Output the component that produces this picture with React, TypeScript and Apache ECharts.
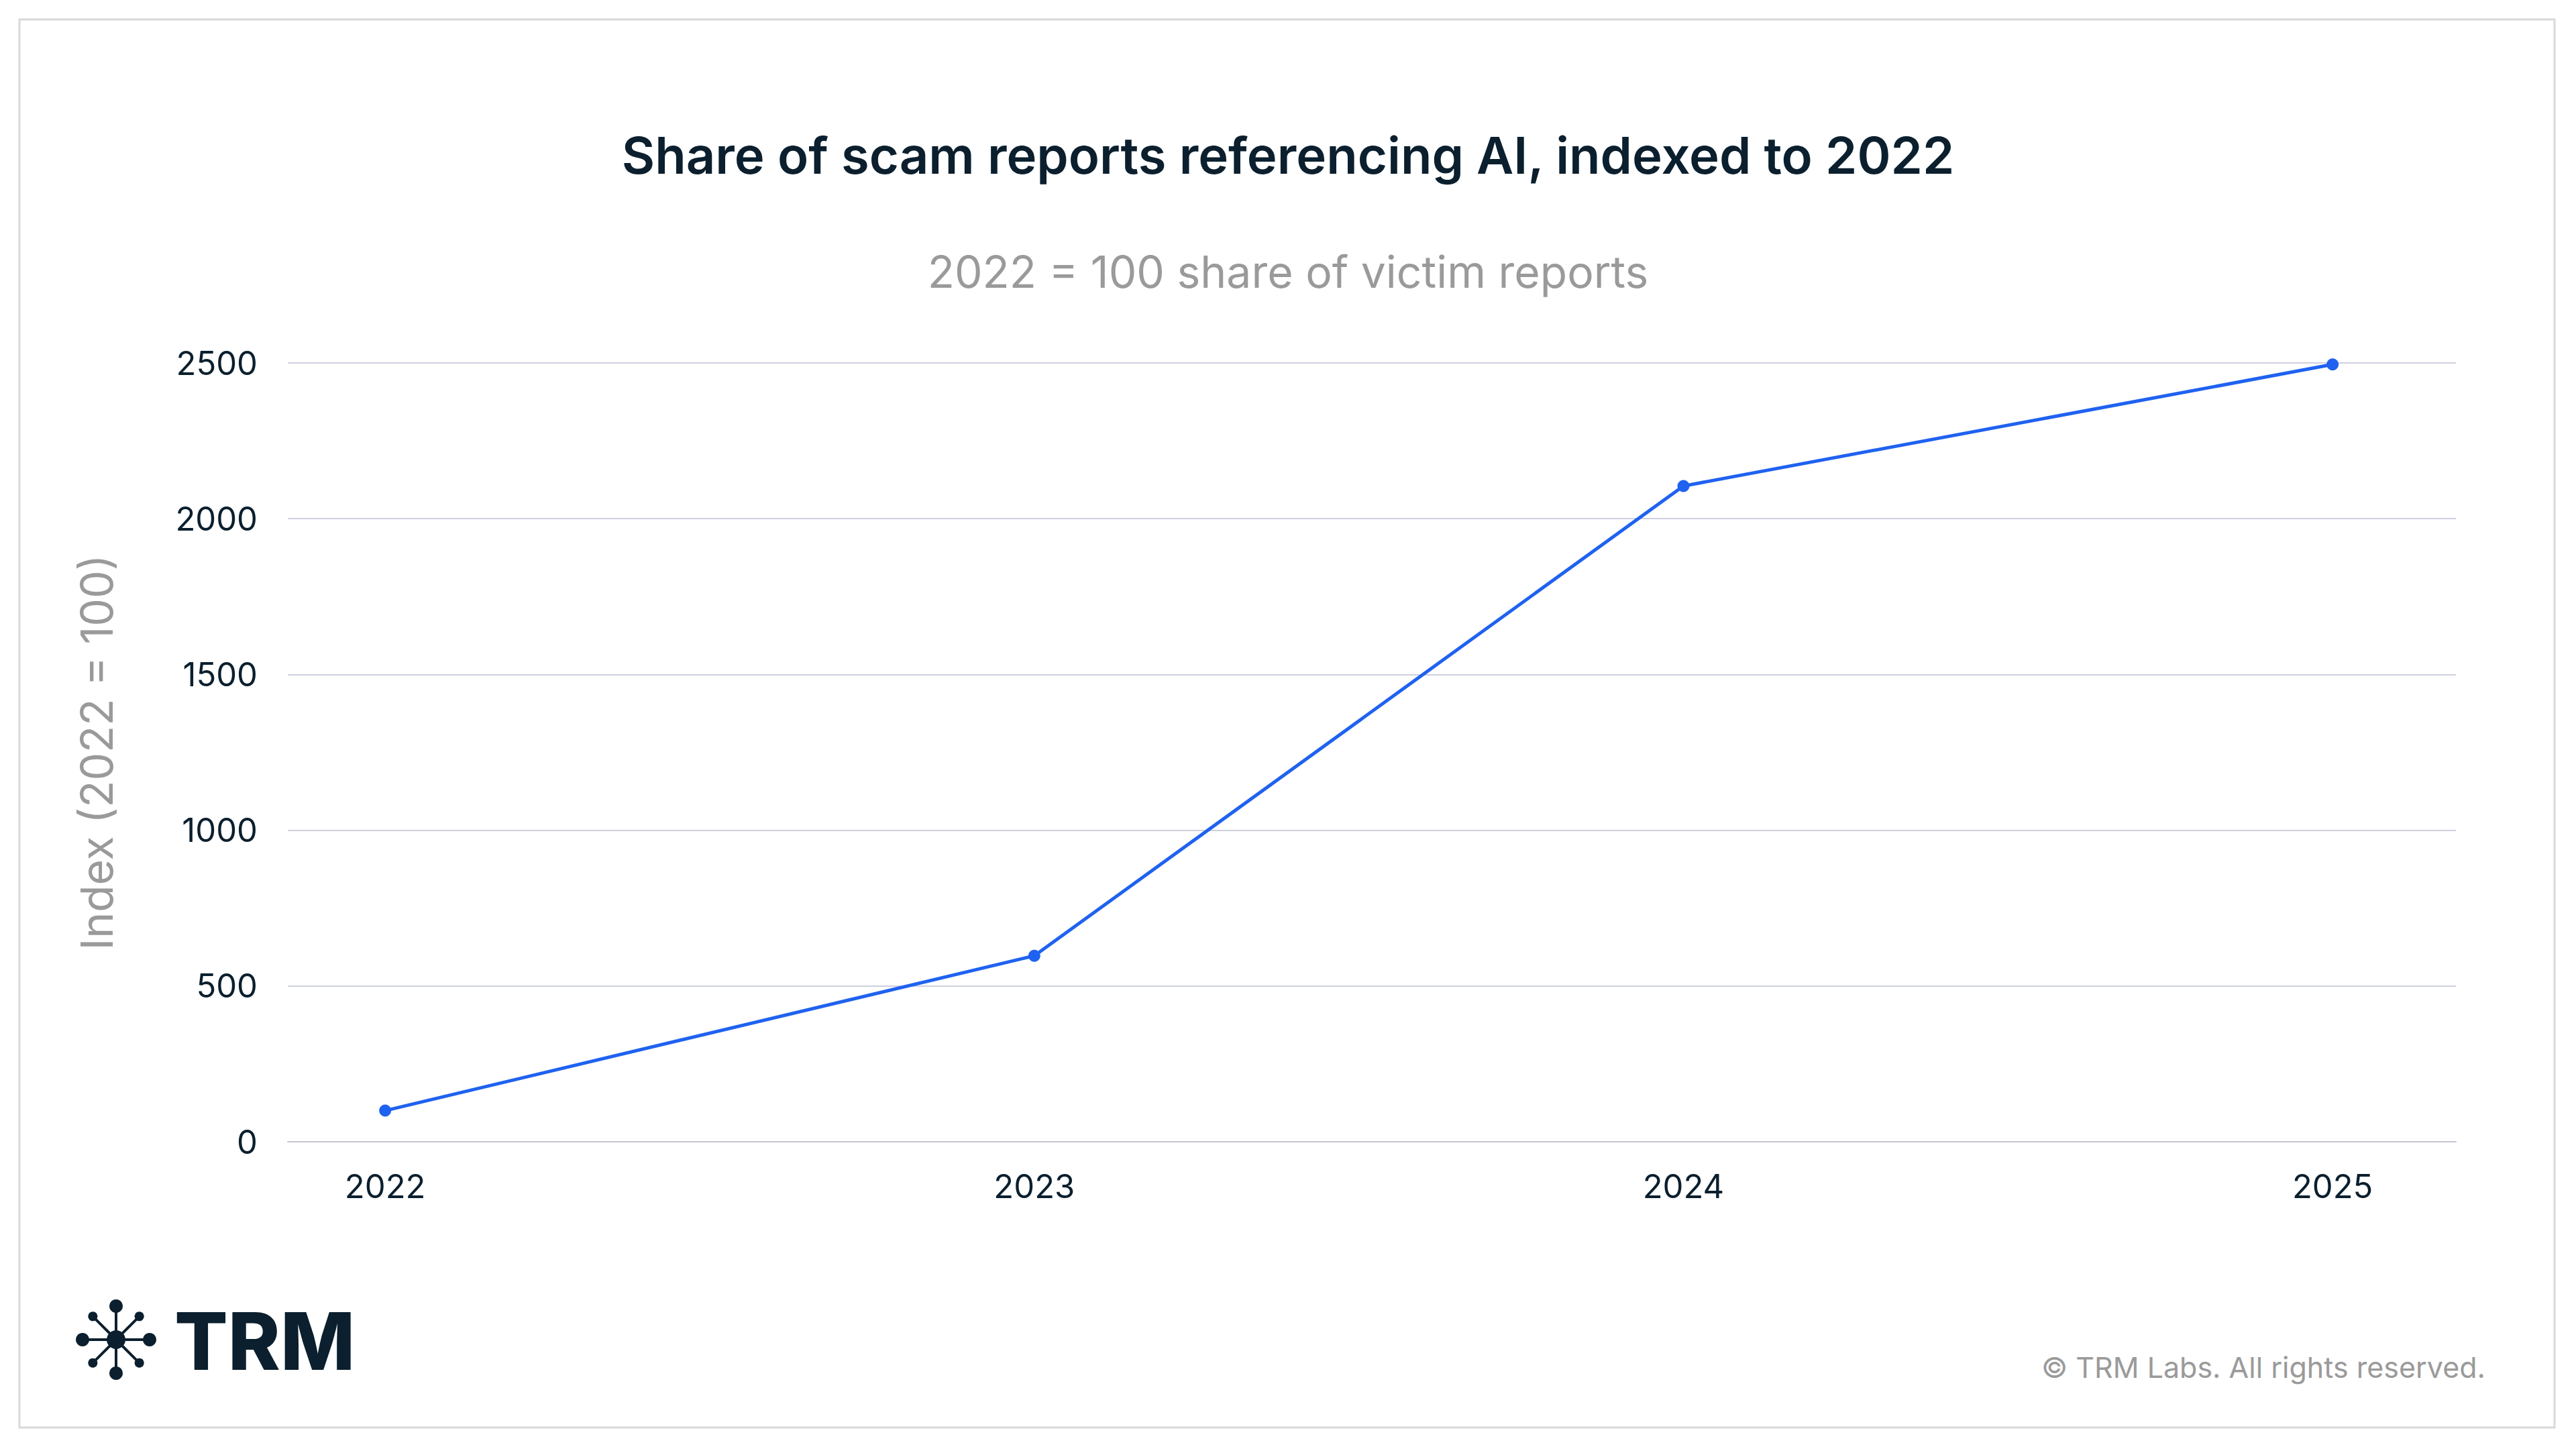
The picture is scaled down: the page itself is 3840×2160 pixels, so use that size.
import React, { useEffect, useRef } from 'react';
import * as echarts from 'echarts';

const years = [2022, 2023, 2024, 2025];
const indexValues = [100, 597, 2105, 2495];
const yTicks = [0, 500, 1000, 1500, 2000, 2500];

const DARK = '#0b1f2e';
const GRAY = '#9a9a9a';
const BLUE = '#1f62f0';

const cx = 173;
const cy = 1997;
const logoParts: any[] = [];
const spokes = [
  { a: 0, d: 50, r: 10 }, { a: 90, d: 50, r: 10 }, { a: 180, d: 50, r: 10 }, { a: 270, d: 50, r: 10 },
  { a: 45, d: 49, r: 7 }, { a: 135, d: 49, r: 7 }, { a: 225, d: 49, r: 7 }, { a: 315, d: 49, r: 7 },
];
spokes.forEach((s) => {
  const rad = (s.a * Math.PI) / 180;
  const x = cx + Math.cos(rad) * s.d;
  const y = cy + Math.sin(rad) * s.d;
  logoParts.push({ type: 'line', shape: { x1: cx, y1: cy, x2: x, y2: y }, style: { stroke: DARK, lineWidth: 4 } });
  logoParts.push({ type: 'circle', shape: { cx: x, cy: y, r: s.r }, style: { fill: DARK } });
});
logoParts.push({ type: 'circle', shape: { cx, cy, r: 14 }, style: { fill: DARK } });

const App: React.FC = () => {
  const chartRef = useRef<HTMLDivElement>(null);

  useEffect(() => {
    if (!chartRef.current) return;
    const chart = echarts.init(chartRef.current, undefined, { renderer: 'svg' });
    const font = 'Inter, "DejaVu Sans", sans-serif';
    chart.setOption({
      animation: false,
      backgroundColor: '#fff',
      textStyle: { fontFamily: font },
      title: [
        {
          text: 'Share of scam reports referencing AI, indexed to 2022',
          left: 'center',
          top: 188,
          textStyle: { fontSize: 76, fontWeight: 600, color: DARK, fontFamily: font },
        },
        {
          text: '2022 = 100 share of victim reports',
          left: 'center',
          top: 367,
          textStyle: { fontSize: 66, fontWeight: 400, color: GRAY, fontFamily: font },
        },
      ],
      grid: { left: 429, right: 179, top: 541, bottom: 458 },
      xAxis: {
        type: 'value',
        min: 2021.85,
        max: 2025.19,
        axisLine: { show: true, lineStyle: { color: '#c4c6d4', width: 2 } },
        axisTick: { show: false },
        splitLine: { show: false },
        axisLabel: {
          customValues: years,
          formatter: (v: number) => String(v),
          fontSize: 49,
          color: DARK,
          margin: 42,
        },
      },
      yAxis: {
        type: 'value',
        min: 0,
        max: 2500,
        interval: 500,
        name: 'Index (2022 = 100)',
        nameLocation: 'middle',
        nameGap: 252,
        nameTextStyle: { fontSize: 66, color: GRAY },
        axisLabel: {
          customValues: yTicks,
          formatter: (v: number) => String(v),
          fontSize: 49,
          color: DARK,
          margin: 45,
        },
        axisLine: { show: false },
        axisTick: { show: false },
        splitLine: { lineStyle: { color: '#cdd0de', width: 2 } },
      },
      series: [
        {
          type: 'line',
          data: years.map((y, i) => [y, indexValues[i]]),
          symbol: 'circle',
          symbolSize: 18,
          lineStyle: { color: BLUE, width: 5 },
          itemStyle: { color: BLUE },
        },
      ],
      graphic: [
        {
          type: 'rect',
          shape: { x: 29, y: 29, width: 3779, height: 2099 },
          style: { fill: 'none', stroke: '#d9d9d9', lineWidth: 3 },
        },
        { type: 'group', children: logoParts },
        {
          type: 'text',
          x: 260,
          y: 1999,
          style: { text: 'TRM', fill: DARK, font: `800 118px ${font}`, textVerticalAlign: 'middle' },
        },
        {
          type: 'text',
          x: 3705,
          y: 2038,
          style: {
            text: '© TRM Labs. All rights reserved.',
            fill: GRAY,
            font: `43px ${font}`,
            textAlign: 'right',
            textVerticalAlign: 'middle',
          },
        },
      ],
    });
    return () => chart.dispose();
  }, []);

  return (
    <div
      ref={chartRef}
      style={{ position: 'absolute', left: 0, top: 0, width: 3840, height: 2160 }}
    />
  );
};

export default App;
